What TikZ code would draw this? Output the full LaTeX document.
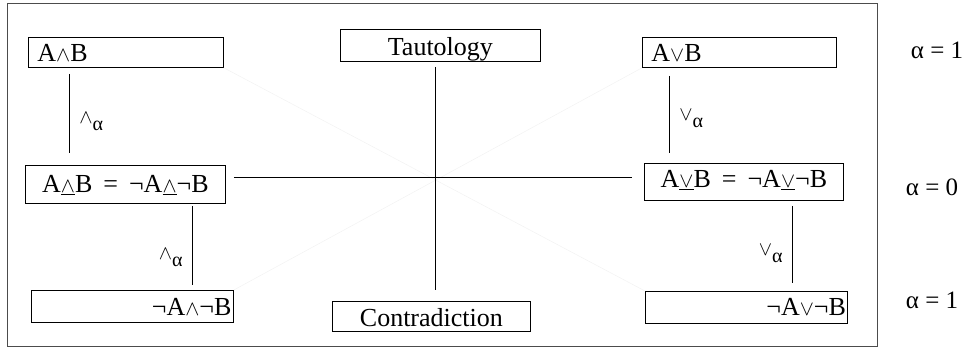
\documentclass[tikz,border=0pt]{standalone}
\usepackage{fontspec}
\usepackage{graphicx}
\setmainfont{Liberation Serif}
\usetikzlibrary{calc}

\newcommand{\andop}{\scalebox{0.85}{$\wedge$}}
\newcommand{\orop}{\scalebox{0.85}{$\vee$}}
\newcommand{\andlbl}{\raisebox{2pt}{\scalebox{0.8}{$\wedge$}}\raisebox{-5pt}{\fontsize{20}{20}\selectfont α}}
\newcommand{\orlbl}{\raisebox{2pt}{\scalebox{0.8}{$\vee$}}\raisebox{-5pt}{\fontsize{20}{20}\selectfont α}}

\tikzset{
  box/.style={draw, line width=0.8pt, anchor=north west, inner xsep=9pt, inner ysep=0pt,
    text depth=6pt, font=\rmfamily\fontsize{26}{28}\selectfont},
  lbl/.style={font=\rmfamily\fontsize{26}{28}\selectfont, inner sep=3pt},
  lvl/.style={font=\rmfamily\fontsize{25}{28}\selectfont},
  faint/.style={draw=black!5, line width=0.5pt},
}

\begin{document}
\begin{tikzpicture}[x=1pt,y=-1pt]
  \useasboundingbox (0,0) rectangle (965,354);
  \draw[black!70, line width=1pt] (7,3) rectangle (877,346);

  % boxes
  \node[box, text height=24pt, text width=177, align=left] (andtop) at (28,37) {A\andop B};
  \node[box, text height=26pt, text width=182, align=center] (taut) at (340,29) {Tautology};
  \node[box, text height=24pt, text width=176, align=left] (ortop) at (642,37) {A\orop B};

  \node[box, text height=27pt, text depth=11pt, text width=182, align=center] (andeq) at (25,165)
    {A\underline{\andop}B\hspace{11pt}=\hspace{11pt}¬A\underline{\andop}¬B};
  \node[box, text height=24pt, text depth=13pt, text width=181, align=center] (oreq) at (644,163)
    {A\underline{\orop}B\hspace{11pt}=\hspace{11pt}¬A\underline{\orop}¬B};

  \node[box, text height=25pt, text depth=7pt, text width=198, inner xsep=2pt, align=right] (andbot) at (31,290) {¬A\andop¬B};
  \node[box, text height=25pt, text depth=5pt, text width=180, align=center] (contra) at (332,301) {Contradiction};
  \node[box, text height=24pt, text depth=8pt, text width=199, inner xsep=1.5pt, align=right] (orbot) at (645,291) {¬A\orop¬B};

  % faint diagonals
  \draw[faint] (andtop.south east) -- (orbot.north west);
  \draw[faint] (andbot.north east) -- (ortop.south west);

  % cross
  \coordinate (c) at (435,177);
  \draw[line width=0.8pt, shorten <=5pt, shorten >=11pt] (c |- taut.south) -- (c |- contra.north);
  \draw[line width=0.8pt, shorten <=8pt, shorten >=12pt] (c -| andeq.east) -- (c -| oreq.west);

  % alpha steps
  \draw[line width=0.8pt] ($(andtop.south west)+(41,6)$) -- ($(andeq.north west)+(44,-12)$)
    node[lbl, pos=0.6, right=7pt] {\andlbl};
  \draw[line width=0.8pt] ($(andeq.south west)+(167,2)$) -- ($(andbot.north west)+(161,-5)$)
    node[lbl, pos=0.65, left=6pt] {\andlbl};
  \draw[line width=0.8pt] ($(ortop.south west)+(27,8)$) -- ($(oreq.north west)+(25,-10)$)
    node[lbl, pos=0.55, right=7pt] {\orlbl};
  \draw[line width=0.8pt] ($(oreq.south west)+(148,5)$) -- ($(orbot.north west)+(147,-8)$)
    node[lbl, pos=0.62, left=6pt] {\orlbl};

  % levels
  \node[lvl] (lvltop) at (937,50) {α = 1};
  \node[lvl] (lvlmid) at (932,187) {α = 0};
  \node[lvl] (lvlbot) at (932,300) {α = 1};
\end{tikzpicture}
\end{document}
